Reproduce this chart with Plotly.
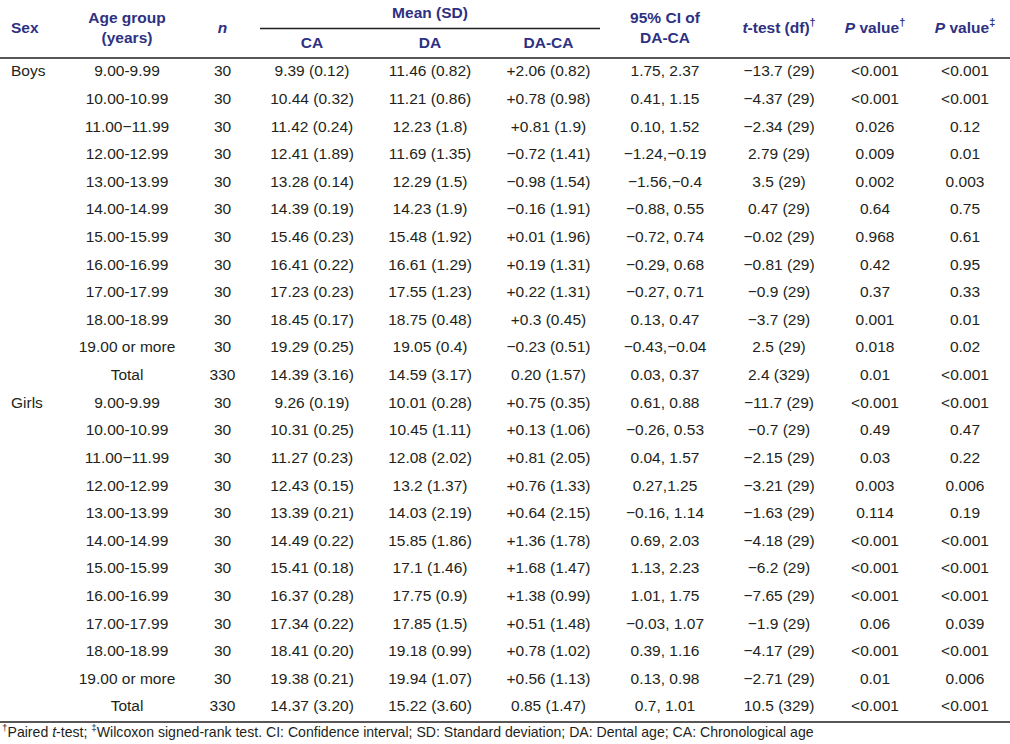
import plotly.graph_objects as go

# ---------------- data ----------------
sex = ["Boys"] + [""] * 11 + ["Girls"] + [""] * 11
age_group = ["9.00-9.99", "10.00-10.99", "11.00\u221211.99", "12.00-12.99", "13.00-13.99",
             "14.00-14.99", "15.00-15.99", "16.00-16.99", "17.00-17.99", "18.00-18.99",
             "19.00 or more", "Total"] * 2
n = ["30"] * 11 + ["330"] + ["30"] * 11 + ["330"]
ca = ["9.39 (0.12)", "10.44 (0.32)", "11.42 (0.24)", "12.41 (1.89)", "13.28 (0.14)", "14.39 (0.19)",
      "15.46 (0.23)", "16.41 (0.22)", "17.23 (0.23)", "18.45 (0.17)", "19.29 (0.25)", "14.39 (3.16)",
      "9.26 (0.19)", "10.31 (0.25)", "11.27 (0.23)", "12.43 (0.15)", "13.39 (0.21)", "14.49 (0.22)",
      "15.41 (0.18)", "16.37 (0.28)", "17.34 (0.22)", "18.41 (0.20)", "19.38 (0.21)", "14.37 (3.20)"]
da = ["11.46 (0.82)", "11.21 (0.86)", "12.23 (1.8)", "11.69 (1.35)", "12.29 (1.5)", "14.23 (1.9)",
      "15.48 (1.92)", "16.61 (1.29)", "17.55 (1.23)", "18.75 (0.48)", "19.05 (0.4)", "14.59 (3.17)",
      "10.01 (0.28)", "10.45 (1.11)", "12.08 (2.02)", "13.2 (1.37)", "14.03 (2.19)", "15.85 (1.86)",
      "17.1 (1.46)", "17.75 (0.9)", "17.85 (1.5)", "19.18 (0.99)", "19.94 (1.07)", "15.22 (3.60)"]
da_ca = ["+2.06 (0.82)", "+0.78 (0.98)", "+0.81 (1.9)", "\u22120.72 (1.41)", "\u22120.98 (1.54)",
         "\u22120.16 (1.91)", "+0.01 (1.96)", "+0.19 (1.31)", "+0.22 (1.31)", "+0.3 (0.45)",
         "\u22120.23 (0.51)", "0.20 (1.57)",
         "+0.75 (0.35)", "+0.13 (1.06)", "+0.81 (2.05)", "+0.76 (1.33)", "+0.64 (2.15)", "+1.36 (1.78)",
         "+1.68 (1.47)", "+1.38 (0.99)", "+0.51 (1.48)", "+0.78 (1.02)", "+0.56 (1.13)", "0.85 (1.47)"]
ci = ["1.75, 2.37", "0.41, 1.15", "0.10, 1.52", "\u22121.24,\u22120.19", "\u22121.56,\u22120.4",
      "\u22120.88, 0.55", "\u22120.72, 0.74", "\u22120.29, 0.68", "\u22120.27, 0.71", "0.13, 0.47",
      "\u22120.43,\u22120.04", "0.03, 0.37",
      "0.61, 0.88", "\u22120.26, 0.53", "0.04, 1.57", "0.27,1.25", "\u22120.16, 1.14", "0.69, 2.03",
      "1.13, 2.23", "1.01, 1.75", "\u22120.03, 1.07", "0.39, 1.16", "0.13, 0.98", "0.7, 1.01"]
ttest = ["\u221213.7 (29)", "\u22124.37 (29)", "\u22122.34 (29)", "2.79 (29)", "3.5 (29)", "0.47 (29)",
         "\u22120.02 (29)", "\u22120.81 (29)", "\u22120.9 (29)", "\u22123.7 (29)", "2.5 (29)", "2.4 (329)",
         "\u221211.7 (29)", "\u22120.7 (29)", "\u22122.15 (29)", "\u22123.21 (29)", "\u22121.63 (29)",
         "\u22124.18 (29)", "\u22126.2 (29)", "\u22127.65 (29)", "\u22121.9 (29)", "\u22124.17 (29)",
         "\u22122.71 (29)", "10.5 (329)"]
p_ttest = ["&lt;0.001", "&lt;0.001", "0.026", "0.009", "0.002", "0.64", "0.968", "0.42", "0.37", "0.001",
           "0.018", "0.01",
           "&lt;0.001", "0.49", "0.03", "0.003", "0.114", "&lt;0.001", "&lt;0.001", "&lt;0.001", "0.06",
           "&lt;0.001", "0.01", "&lt;0.001"]
p_wilcoxon = ["&lt;0.001", "&lt;0.001", "0.12", "0.01", "0.003", "0.75", "0.61", "0.95", "0.33", "0.01",
              "0.02", "&lt;0.001",
              "&lt;0.001", "0.47", "0.22", "0.006", "0.19", "&lt;0.001", "&lt;0.001", "&lt;0.001", "0.039",
              "&lt;0.001", "0.006", "&lt;0.001"]

headers = ["Sex", "Age group<br>(years)", "<i>n</i>", "CA", "DA", "DA-CA", "95% CI of<br>DA-CA",
           "<i>t</i>-test (df)<sup>\u2020</sup>", "<i>P</i> value<sup>\u2020</sup>",
           "<i>P</i> value<sup>\u2021</sup>"]
group_header = "Mean (SD)"
footnote = ("<sup>\u2020</sup>Paired <i>t</i>-test; <sup>\u2021</sup>Wilcoxon signed-rank test. "
            "CI: Confidence interval; SD: Standard deviation; DA: Dental age; CA: Chronological age")

# ---------------- layout constants ----------------
W, H = 1010, 744
FONT = "Liberation Sans, Arial, sans-serif"
BODY_COLOR = "#231f20"
HEAD_COLOR = "#2e3182"
FS = 15.5
col_x = [11, 127, 222.5, 312, 430, 548.5, 665, 779, 875, 965]
row_y0, row_dy = 72.5, 27.61
head_y = [29, 29, 29, 44, 44, 44, 29, 29, 29, 29]

columns = [sex, age_group, n, ca, da, da_ca, ci, ttest, p_ttest, p_wilcoxon]
rows_y = [row_y0 + i * row_dy for i in range(len(age_group))]

fig = go.Figure()

for ci_, col in enumerate(columns):
    idx = [i for i, v in enumerate(col) if v != ""]
    fig.add_trace(go.Scatter(
        x=[col_x[ci_]] * len(idx), y=[rows_y[i] for i in idx], text=[col[i] for i in idx],
        mode="text",
        textposition="middle right" if ci_ == 0 else "middle center",
        textfont=dict(family=FONT, size=FS, color=BODY_COLOR),
        hoverinfo="skip", showlegend=False))

# headers
fig.add_trace(go.Scatter(
    x=col_x, y=head_y, text=[f"<b>{h}</b>" for h in headers], mode="text",
    textposition=["middle right"] + ["middle center"] * 9,
    textfont=dict(family=FONT, size=FS, color=HEAD_COLOR),
    hoverinfo="skip", showlegend=False))
fig.add_trace(go.Scatter(
    x=[col_x[4]], y=[14], text=[f"<b>{group_header}</b>"], mode="text",
    textposition="middle center",
    textfont=dict(family=FONT, size=FS, color=HEAD_COLOR),
    hoverinfo="skip", showlegend=False))

# footnote
fig.add_trace(go.Scatter(
    x=[2], y=[733.5], text=[footnote], mode="text", textposition="middle right",
    textfont=dict(family=FONT, size=14.1, color=BODY_COLOR),
    hoverinfo="skip", showlegend=False))

# rules
line = dict(color=BODY_COLOR, width=1.3)
fig.add_shape(type="line", xref="x", yref="y", x0=0, x1=W, y0=58, y1=58, line=line)
fig.add_shape(type="line", xref="x", yref="y", x0=260, x1=600, y0=28.5, y1=28.5, line=line)
fig.add_shape(type="line", xref="x", yref="y", x0=0, x1=W, y0=722, y1=722, line=line)

fig.update_layout(
    width=W, height=H, margin=dict(l=0, r=0, t=0, b=0),
    paper_bgcolor="white", plot_bgcolor="white",
    xaxis=dict(range=[0, W], visible=False, fixedrange=True),
    yaxis=dict(range=[H, 0], visible=False, fixedrange=True),
)

fig.write_html("out.html", config={"displayModeBar": False},
               post_script="document.body.style.margin='0';document.body.style.overflow='hidden';")
